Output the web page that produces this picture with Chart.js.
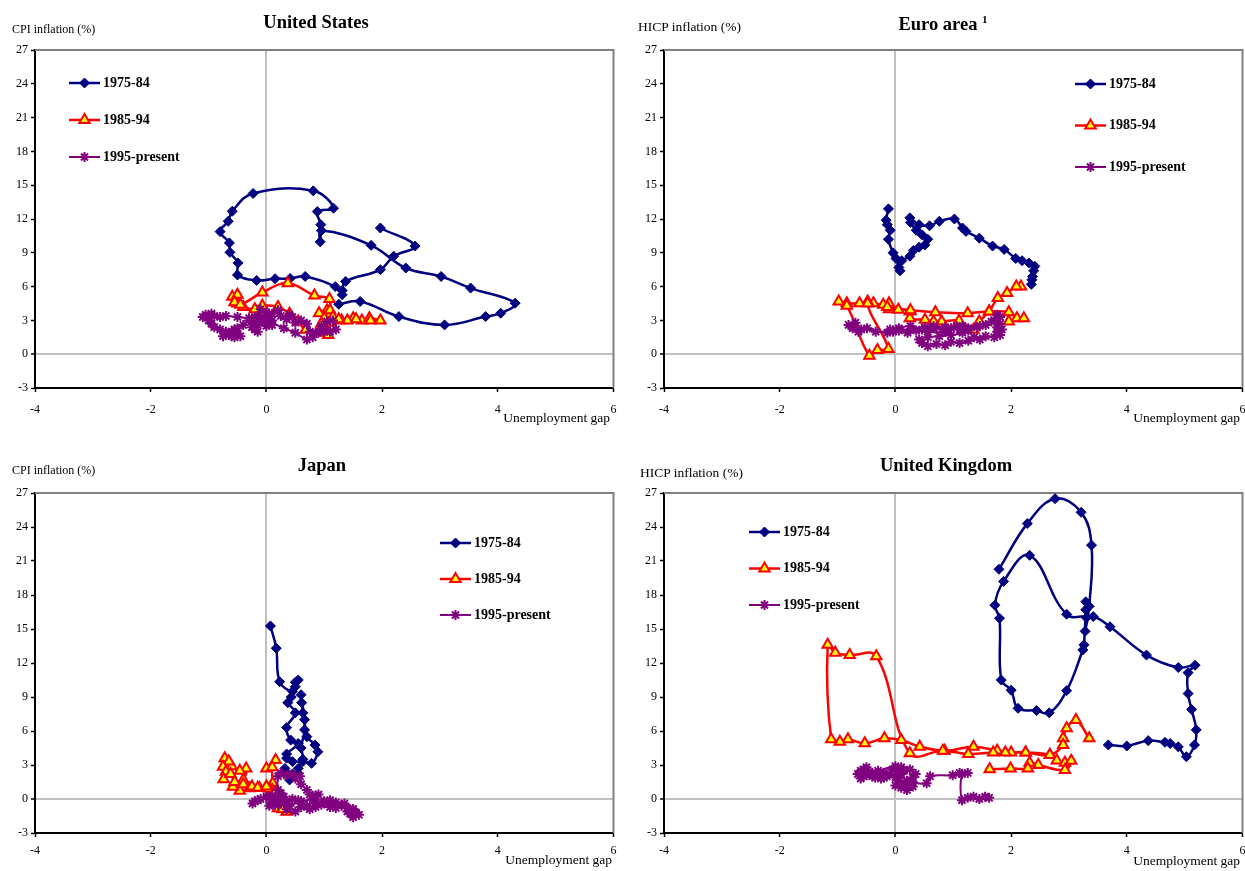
<!doctype html>
<html lang="en">
<head>
<meta charset="utf-8">
<title>Inflation and unemployment gap</title>
<script src="https://cdn.jsdelivr.net/npm/chart.js@4.4.1/dist/chart.umd.min.js"></script>
<style>
  body { margin: 0; background: #fff; font-family: 'Liberation Serif', 'Times New Roman', serif; color: #000; }
  #page { position: relative; width: 1245px; height: 871px; overflow: hidden; }
  canvas { position: absolute; }
  .ttl { position: absolute; font-weight: bold; font-size: 18.5px; transform: translate(-50%, -50%); white-space: nowrap; }
  .ttl sup { font-size: 11px; vertical-align: 7px; }
  .ytl { position: absolute; font-size: 12px; transform: translateY(-50%); white-space: nowrap; }
  .ytl.big { font-size: 13.5px; }
  .xtl { position: absolute; font-size: 13.5px; transform: translate(-100%, -50%); white-space: nowrap; }
</style>
</head>
<body>
<div id="page">
  <canvas id="usChart" width="622" height="435" style="left:0;top:0"></canvas>
  <canvas id="euChart" width="622" height="435" style="left:629px;top:0"></canvas>
  <canvas id="jpChart" width="622" height="431" style="left:0;top:440px"></canvas>
  <canvas id="ukChart" width="622" height="431" style="left:629px;top:440px"></canvas>

  <div class="ttl" style="left:316px;top:22px">United States</div>
  <div class="ttl" style="left:943px;top:24px">Euro area <sup>1</sup></div>
  <div class="ttl" style="left:322px;top:465px">Japan</div>
  <div class="ttl" style="left:946px;top:465px">United Kingdom</div>

  <div class="ytl" style="left:12px;top:29px">CPI inflation (%)</div>
  <div class="ytl big" style="left:638px;top:27px">HICP inflation (%)</div>
  <div class="ytl" style="left:12px;top:470px">CPI inflation (%)</div>
  <div class="ytl big" style="left:640px;top:473px">HICP inflation (%)</div>

  <div class="xtl" style="left:610px;top:418px">Unemployment gap</div>
  <div class="xtl" style="left:1240px;top:418px">Unemployment gap</div>
  <div class="xtl" style="left:612px;top:860px">Unemployment gap</div>
  <div class="xtl" style="left:1240px;top:861px">Unemployment gap</div>
</div>

<script>
// periods shown in every panel
const periods = ['1975-84', '1985-94', '1995-present'];
const xTicks = [-4, -2, 0, 2, 4, 6];
const yTicks = [-3, 0, 3, 6, 9, 12, 15, 18, 21, 24, 27];

// [unemployment gap, inflation], in time order

// United States
const us7584 = [[1.97,11.2],[2.57,9.6],[2.2,8.7],[1.97,7.5],[1.37,6.46],[1.31,5.65],[1.31,5.27],[1.19,6.0],
  [0.67,6.9],[0.41,6.72],[0.15,6.7],[-0.17,6.55],[-0.5,7.03],[-0.49,8.1],[-0.63,9.04],[-0.64,9.88],
  [-0.8,10.88],[-0.66,11.8],[-0.59,12.69],[-0.23,14.27],[0.81,14.5],[1.16,12.96],[0.88,12.66],[0.94,11.5],
  [0.93,9.97],[0.95,10.97],[1.81,9.66],[2.41,7.65],[3.02,6.9],[3.53,5.87],[4.3,4.53],[4.05,3.64],
  [3.79,3.34],[3.08,2.6],[2.29,3.34],[1.62,4.68],[1.25,4.44]];
const us8594 = [[1.1,3.6],[1.05,3.9],[0.91,3.64],[1.0,3.2],[1.07,1.71],[0.9,1.9],[0.68,2.16],[0.55,2.9],
  [0.4,3.6],[0.2,4.2],[-0.07,4.3],[-0.2,4.0],[-0.4,4.2],[-0.5,4.5],[-0.59,5.1],[-0.5,5.27],
  [-0.55,4.6],[-0.45,4.4],[-0.07,5.48],[0.37,6.3],[0.83,5.21],[1.09,4.89],[1.1,3.9],[1.15,3.3],
  [1.3,3.0],[1.5,3.2],[1.65,3.0],[1.78,3.2],[1.97,3.0],[1.8,3.0],[1.55,3.1],[1.4,3.0],
  [1.25,3.1],[1.1,2.8],[1.0,2.5],[0.95,2.7]];
const us95 = [[0.0,2.9],[0.05,3.1],[0.1,2.6],[0.0,2.5],[0.05,2.8],[0.1,3.0],[0.0,2.8],[-0.05,3.0],
  [0.0,2.9],[-0.1,3.3],[-0.1,3.0],[-0.2,3.3],[-0.3,3.0],[-0.4,2.6],[-0.5,2.3],[-0.55,2.2],
  [-0.6,2.0],[-0.7,1.8],[-0.75,1.6],[-0.65,1.7],[-0.6,1.6],[-0.55,1.5],[-0.45,1.6],[-0.5,1.8],
  [-0.6,1.9],[-0.7,2.0],[-0.8,2.2],[-0.9,2.4],[-0.95,2.7],[-1.0,3.0],[-1.1,3.3],[-1.05,3.5],
  [-0.95,3.6],[-1.0,3.4],[-0.9,3.4],[-0.8,3.3],[-0.7,3.4],[-0.5,3.3],[-0.3,3.2],[-0.15,3.1],
  [0.05,2.9],[0.3,2.3],[0.5,1.9],[0.7,1.3],[0.8,1.5],[0.9,1.9],[1.0,2.0],[1.0,2.3],
  [0.95,2.5],[1.05,2.9],[1.15,3.0],[1.2,2.2],[1.1,2.0],[0.95,2.2],[0.85,1.9],[0.75,2.0],
  [0.7,2.7],[0.6,3.0],[0.5,2.8],[0.45,3.3],[0.4,3.5],[0.35,3.1],[0.25,3.4],[0.2,3.9],
  [0.1,3.6],[0.05,3.4],[0.0,3.7],[-0.1,4.0],[-0.15,3.4],[-0.2,2.2],[-0.15,2.0],[-0.2,2.5],
  [-0.25,2.4],[-0.2,2.7],[-0.15,2.6]];

// Euro area
const eu7584 = [[-0.12,12.9],[-0.16,11.9],[-0.14,11.5],[-0.09,11.0],[-0.12,10.2],[-0.04,9.0],[0.01,8.5],[0.08,7.4],
  [0.06,7.7],[0.11,8.3],[0.25,8.7],[0.31,9.2],[0.41,9.5],[0.51,9.7],[0.56,10.2],[0.46,10.6],
  [0.36,11.0],[0.26,11.7],[0.25,12.1],[0.41,11.5],[0.59,11.4],[0.76,11.8],[1.02,12.0],[1.16,11.2],
  [1.22,10.9],[1.45,10.3],[1.68,9.6],[1.88,9.3],[2.08,8.5],[2.19,8.3],[2.31,8.1],[2.41,7.8],
  [2.39,7.4],[2.37,6.9],[2.36,6.6],[2.35,6.2]];
const eu8594 = [[2.17,6.0],[2.09,6.0],[1.93,5.43],[1.77,4.98],[1.62,3.79],[1.45,2.9],[1.35,2.16],[1.1,2.96],
  [0.8,2.9],[0.66,2.9],[0.51,3.05],[0.25,3.2],[0.25,3.79],[0.05,3.94],[-0.11,4.0],[-0.11,4.53],
  [-0.21,4.38],[-0.38,4.53],[-0.48,4.68],[-0.62,4.53],[-0.84,4.53],[-0.98,4.68],[-0.84,4.3],[-0.45,-0.13],
  [-0.31,0.38],[-0.12,0.46],[-0.48,4.5],[-0.14,4.2],[0.26,3.9],[0.69,3.73],[1.25,3.64],[1.62,3.79],
  [1.96,3.73],[2.1,3.2],[2.22,3.2],[1.96,2.9]];
const eu95 = [[1.81,3.3],[1.76,3.5],[1.71,3.0],[1.81,2.7],[1.76,2.4],[1.84,2.2],[1.76,2.0],[1.81,1.7],
  [1.71,1.5],[1.56,1.6],[1.46,1.3],[1.36,1.5],[1.26,1.2],[1.11,1.0],[0.96,1.1],[0.86,0.8],
  [0.71,0.9],[0.56,0.7],[0.46,1.0],[0.41,1.3],[0.56,1.5],[0.76,1.6],[0.96,1.7],[1.16,1.9],
  [1.26,2.3],[1.06,2.5],[0.86,2.4],[0.66,2.3],[0.46,2.2],[0.26,2.5],[0.06,2.3],[-0.04,2.0],
  [-0.14,1.9],[-0.09,2.2],[0.06,2.1],[0.21,1.9],[0.36,2.1],[0.51,2.4],[0.66,2.5],[0.81,2.2],
  [0.96,2.3],[1.11,2.2],[1.26,2.1],[1.41,2.4],[1.56,2.6],[1.66,2.9],[1.46,2.5],[1.16,2.5],
  [0.86,2.0],[0.56,2.0],[0.26,2.2],[-0.04,2.1],[-0.34,2.0],[-0.49,2.3],[-0.64,2.0],[-0.74,2.3],
  [-0.81,2.6],[-0.69,2.8],[-0.59,2.2]];

// Japan
const jp7584 = [[0.07,15.27],[0.17,13.3],[0.23,10.35],[0.45,9.5],[0.5,10.3],[0.55,10.5],[0.5,9.9],[0.43,9.0],
  [0.37,8.5],[0.5,7.6],[0.35,6.3],[0.42,5.2],[0.55,4.9],[0.35,3.97],[0.35,3.6],[0.45,3.3],
  [0.63,3.5],[0.6,4.5],[0.66,6.1],[0.63,7.6],[0.61,8.5],[0.6,9.2],[0.66,7.0],[0.7,5.5],
  [0.84,4.77],[0.89,4.17],[0.78,3.15],[0.63,3.3],[0.55,2.7],[0.45,2.2],[0.32,2.7],[0.4,1.68],
  [0.5,2.0],[0.54,2.3]];
const jp8594 = [[0.0,2.7],[0.16,3.44],[0.1,2.8],[0.11,1.38],[0.1,0.8],[0.2,-0.82],[0.35,-1.12],[0.28,-0.9],
  [0.05,0.9],[-0.12,0.96],[-0.29,0.94],[-0.46,0.73],[-0.58,1.09],[-0.4,1.7],[-0.35,2.7],[-0.46,2.5],
  [-0.6,2.9],[-0.72,3.59],[-0.65,3.3],[-0.75,2.85],[-0.7,2.4],[-0.74,1.74],[-0.62,2.2],[-0.55,1.5],
  [-0.4,1.3],[-0.25,1.1],[-0.15,1.0],[0.0,1.1],[0.15,0.6],[0.2,0.3]];
const jp95 = [[0.0,0.2],[-0.1,0.0],[-0.2,-0.2],[-0.24,-0.4],[-0.15,-0.1],[0.05,0.1],[0.1,0.3],[0.15,0.1],
  [0.2,-0.2],[0.3,0.2],[0.25,0.5],[0.2,0.8],[0.2,2.0],[0.25,2.3],[0.35,2.1],[0.45,2.2],
  [0.58,2.0],[0.5,1.8],[0.6,1.3],[0.7,0.8],[0.75,0.4],[0.85,0.3],[0.9,0.4],[0.8,0.0],
  [0.6,-0.2],[0.4,-0.6],[0.35,-0.9],[0.5,-1.1],[0.6,-0.7],[0.85,-0.3],[0.95,-0.5],[1.0,-0.3],
  [1.1,-0.7],[1.15,-0.4],[1.3,-0.6],[1.2,-0.8],[1.3,-0.5],[1.4,-0.8],[1.45,-1.0],[1.5,-0.9],
  [1.55,-1.2],[1.6,-1.4],[1.5,-1.6],[1.45,-1.3],[1.4,-1.1],[1.5,-0.9],[1.35,-0.4],[1.2,-0.3],
  [1.1,-0.1],[1.0,-0.2],[0.9,-0.4],[0.85,-0.7],[0.75,-0.9],[0.7,-0.6],[0.6,-0.4],[0.55,-0.1],
  [0.45,0.0],[0.35,-0.2],[0.3,-0.4],[0.2,-0.5],[0.1,-0.3],[0.05,-0.6],[0.15,-0.5],[0.25,-0.2]];

// United Kingdom
const uk7584 = [[1.79,20.27],[2.28,24.3],[2.76,26.5],[3.21,25.3],[3.39,22.4],[3.35,17.0],[3.28,14.8],[3.3,16.0],
  [3.29,17.4],[3.29,16.7],[3.26,13.6],[3.24,13.15],[2.96,9.56],[2.66,7.6],[2.44,7.8],[2.12,8.0],
  [2.0,9.6],[1.83,10.5],[1.8,15.95],[1.72,17.1],[1.87,19.2],[2.32,21.5],[2.96,16.3],[3.42,16.1],
  [3.71,15.2],[4.34,12.7],[4.89,11.6],[5.18,11.8],[5.06,11.15],[5.06,9.3],[5.12,7.9],[5.2,6.1],
  [5.17,4.77],[5.03,3.73],[4.89,4.6],[4.75,4.9],[4.66,5.0],[4.37,5.15],[4.0,4.68],[3.68,4.77]];
const uk8594 = [[3.35,5.36],[3.12,6.97],[2.96,6.24],[2.9,5.36],[2.9,4.77],[2.67,3.88],[2.25,4.1],[2.0,4.1],
  [1.76,4.26],[1.35,4.62],[0.85,4.26],[0.42,4.62],[0.1,5.2],[-0.19,5.36],[-0.53,4.91],[-0.82,5.27],
  [-0.96,5.06],[-1.11,5.27],[-1.17,13.6],[-1.04,12.9],[-0.79,12.7],[-0.33,12.6],[0.25,4.03],[0.82,4.26],
  [1.26,3.97],[1.69,4.1],[1.9,4.1],[2.25,4.1],[2.67,3.88],[2.79,3.4],[2.93,3.2],[3.04,3.38],
  [2.93,2.56],[2.47,3.0],[2.32,3.2],[2.29,2.7],[1.99,2.7],[1.63,2.62]];
const uk95 = [[-0.5,2.8],[-0.6,2.5],[-0.65,2.2],[-0.55,2.0],[-0.6,1.8],[-0.5,2.1],[-0.4,2.3],[-0.35,1.9],
  [-0.3,2.1],[-0.25,1.8],[-0.2,2.3],[-0.15,2.0],[-0.1,2.2],[0.0,1.9],[0.05,2.4],[0.1,2.8],
  [0.15,2.5],[0.05,1.6],[0.0,1.2],[0.1,1.0],[0.2,0.8],[0.3,1.1],[0.15,1.3],[0.2,1.6],
  [0.3,1.9],[0.35,2.2],[0.25,2.6],[0.1,2.2],[-0.05,2.6],[0.0,2.9],[-0.3,2.5],[-0.45,2.4],
  [-0.55,2.6],[-0.4,2.0],[-0.2,1.9],[0.05,2.0],[0.3,1.5],[0.54,1.4],[0.6,2.0],[0.99,2.1],
  [1.11,2.3],[1.25,2.3],[1.15,2.2],[1.15,-0.1],[1.25,0.1],[1.35,0.2],[1.45,0.0],[1.55,0.2],[1.62,0.1]];

Chart.defaults.font.family = "'Liberation Serif', 'Times New Roman', serif";
Chart.defaults.font.size = 12;
Chart.defaults.color = '#000';

const styles = [
  { borderColor: '#000080', borderWidth: 2.5, pointStyle: 'rectRot', pointRadius: 5,
    pointBackgroundColor: '#000080', pointBorderColor: '#000080', pointBorderWidth: 1, order: 3 },
  { borderColor: '#ff0000', borderWidth: 2.5, pointStyle: 'triangle', pointRadius: 6,
    pointBackgroundColor: '#ffff00', pointBorderColor: '#ff0000', pointBorderWidth: 2, order: 2 },
  { borderColor: '#800080', borderWidth: 2, pointStyle: 'star', pointRadius: 5,
    pointBackgroundColor: '#800080', pointBorderColor: '#800080', pointBorderWidth: 2, order: 1 }
];

// gray frame on the top and right of the plot area
const plotFrame = {
  id: 'plotFrame',
  beforeDatasetsDraw(chart) {
    const a = chart.chartArea, ctx = chart.ctx;
    ctx.save();
    ctx.strokeStyle = '#808080';
    ctx.lineWidth = 2;
    ctx.beginPath();
    ctx.moveTo(a.left, a.top);
    ctx.lineTo(a.right, a.top);
    ctx.lineTo(a.right, a.bottom);
    ctx.stroke();
    ctx.restore();
  }
};

// legend drawn inside the plot, like the spreadsheet one
const insideLegend = {
  id: 'insideLegend',
  afterDatasetsDraw(chart, args, opts) {
    const ctx = chart.ctx;
    ctx.save();
    chart.data.datasets.forEach((ds, i) => {
      const y = opts.y + i * opts.gap;
      ctx.strokeStyle = ds.borderColor;
      ctx.lineWidth = ds.borderWidth;
      ctx.beginPath();
      ctx.moveTo(opts.x, y);
      ctx.lineTo(opts.x + 31, y);
      ctx.stroke();
      ctx.fillStyle = ds.pointBackgroundColor;
      ctx.strokeStyle = ds.pointBorderColor;
      ctx.lineWidth = ds.pointBorderWidth;
      Chart.helpers.drawPoint(ctx, { pointStyle: ds.pointStyle, radius: ds.pointRadius,
        rotation: 0, borderWidth: ds.pointBorderWidth }, opts.x + 15.5, y);
      ctx.fillStyle = '#000';
      ctx.font = "bold 14px 'Liberation Serif', 'Times New Roman', serif";
      ctx.textAlign = 'left';
      ctx.textBaseline = 'middle';
      ctx.fillText(ds.label, opts.x + 34, y);
    });
    ctx.restore();
  }
};

let makePanel = (id, series, pad, tickPad, legend) => {
  let zeroColor = c => (c.tick && c.tick.value === 0) ? '#c0c0c0' : 'rgba(0,0,0,0)';
  let zeroWidth = c => (c.tick && c.tick.value === 0) ? 2 : 1;
  new Chart(document.getElementById(id), {
    type: 'scatter',
    data: {
      datasets: series.map((pts, i) => Object.assign({
        label: periods[i],
        data: pts.map(p => ({ x: p[0], y: p[1] })),
        showLine: true,
        tension: 0.4
      }, styles[i]))
    },
    options: {
      responsive: false,
      animation: false,
      events: [],
      layout: { padding: pad },
      plugins: { legend: { display: false }, tooltip: { enabled: false }, insideLegend: legend },
      scales: {
        x: {
          type: 'linear', min: -4, max: 6,
          afterBuildTicks: s => { s.ticks = xTicks.map(v => ({ value: v })); },
          // fixed axis height, and no extra room kept for the end labels
          afterFit: s => { s.height = 30; s.paddingLeft = 0; s.paddingRight = 0; },
          ticks: { maxRotation: 0, autoSkip: false, padding: tickPad, color: '#000' },
          grid: { color: zeroColor, lineWidth: zeroWidth, tickColor: '#000', tickWidth: 1.5, tickLength: 4 },
          border: { color: '#000', width: 2 }
        },
        y: {
          type: 'linear', min: -3, max: 27,
          afterBuildTicks: s => { s.ticks = yTicks.map(v => ({ value: v })); },
          afterFit: s => { s.width = 35; },
          ticks: { autoSkip: false, padding: 3, color: '#000' },
          grid: { color: zeroColor, lineWidth: zeroWidth, tickColor: '#000', tickWidth: 1.5, tickLength: 4 },
          border: { color: '#000', width: 2 }
        }
      }
    },
    plugins: [plotFrame, insideLegend]
  });
};

makePanel('usChart', [us7584, us8594, us95], { top: 50, bottom: 17, left: 0, right: 8.5 }, 11, { x: 69, y: 83, gap: 37 });
makePanel('euChart', [eu7584, eu8594, eu95], { top: 50, bottom: 17, left: 0, right: 8.5 }, 11, { x: 446, y: 84, gap: 41.5 });
makePanel('jpChart', [jp7584, jp8594, jp95], { top: 53, bottom: 8, left: 0, right: 8.5 }, 7, { x: 440, y: 103, gap: 36 });
makePanel('ukChart', [uk7584, uk8594, uk95], { top: 53, bottom: 8, left: 0, right: 8.5 }, 7, { x: 120, y: 92, gap: 36.5 });
</script>
</body>
</html>
